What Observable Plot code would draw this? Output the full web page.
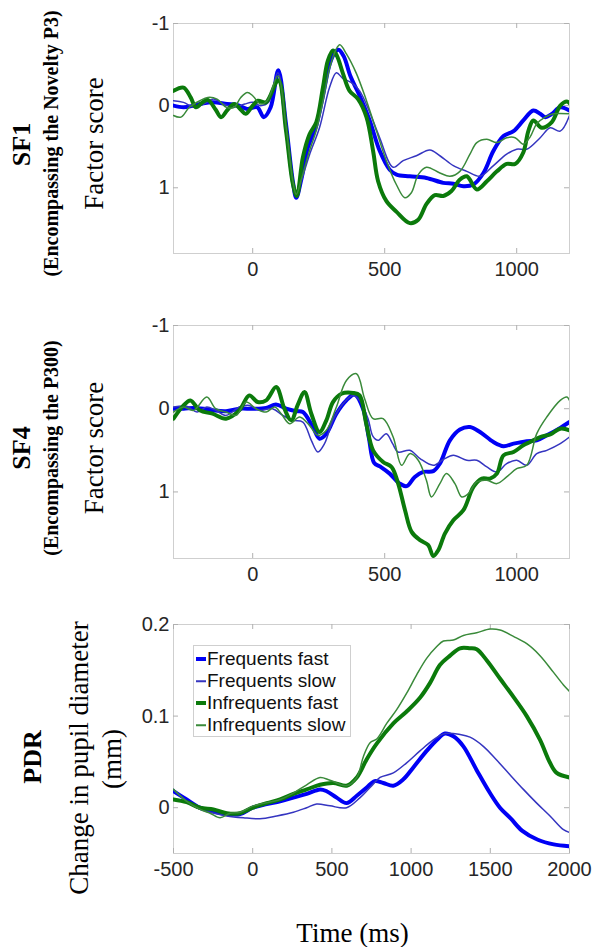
<!DOCTYPE html>
<html>
<head>
<meta charset="utf-8">
<script src="https://cdn.jsdelivr.net/npm/d3@7"></script>
<script src="https://cdn.jsdelivr.net/npm/@observablehq/plot@0.6"></script>
<style>
  html, body { margin: 0; padding: 0; background: white; overflow: hidden; }
  #c { position: relative; width: 594px; height: 947px; }
  #legend { position: absolute; left: 193px; top: 645px; width: 156px; height: 90px;
    border: 1px solid #cfcfcf; background: white; font-family: "Liberation Sans", Arial, sans-serif;
    font-size: 19px; color: #111; }
  #legend .row { position: absolute; left: 0; height: 22px; line-height: 22px; white-space: nowrap; }
  #legend .sw { position: absolute; left: 2px; width: 10px; top: 50%; transform: translateY(-50%); }
  #legend .tx { position: absolute; left: 13px; top: 0; }
</style>
</head>
<body>
<div id="c"></div>
<script>
// ---------- Legend / series names ----------
const seriesNames = ["Frequents fast", "Frequents slow", "Infrequents fast", "Infrequents slow"];

// ---------- Tick values ----------
const sfXTicks = [0, 500, 1000];
const sfYTicks = [-1, 0, 1];
const pdrXTicks = [-500, 0, 500, 1000, 1500, 2000];
const pdrYTicks = [0, 0.1, 0.2];

// ---------- SF1 (time ms, factor score) ----------
const sf1FreqFast = [[-300,0],[-262,0.02],[-224,0],[-186,-0.03],[-148,-0.04],[-97,-0.02],[-59,-0.01],[-21,0.04],[17,0.02],[42,0.14],[68,0.02],[97,-0.43],[126,0.22],[152,0.92],[165,1.12],[184,0.9],[209,0.51],[241,0.24],[266,-0.12],[291,-0.5],[310,-0.64],[325,-0.68],[345,-0.6],[370,-0.36],[405,-0.12],[443,0.18],[481,0.55],[519,0.78],[545,0.84],[595,0.86],[658,0.88],[722,0.94],[760,0.95],[798,0.98],[836,0.96],[874,0.82],[912,0.55],[950,0.37],[988,0.31],[1025,0.18],[1063,0.06],[1089,0.1],[1108,0.14],[1133,0.1],[1165,0.02],[1200,0.06]];
const sf1FreqSlow = [[-300,-0.06],[-262,-0.04],[-224,0.02],[-186,-0.02],[-148,-0.08],[-110,-0.02],[-70,0.02],[-30,-0.02],[0,-0.04],[30,0],[60,-0.04],[95,-0.4],[126,0.2],[152,0.9],[165,1.1],[184,0.92],[215,0.6],[253,0.27],[291,-0.22],[317,-0.4],[342,-0.33],[374,-0.28],[405,-0.18],[443,0.08],[481,0.39],[532,0.75],[570,0.67],[620,0.61],[671,0.54],[709,0.61],[760,0.73],[811,0.8],[861,0.86],[912,0.73],[962,0.59],[1000,0.53],[1038,0.53],[1089,0.39],[1127,0.27],[1165,0.31],[1200,0.12]];
const sf1InfFast = [[-300,-0.18],[-262,-0.22],[-235,-0.1],[-215,0.02],[-190,-0.04],[-170,-0.07],[-140,0.05],[-120,0.14],[-95,0.05],[-70,-0.02],[-45,0.05],[-27,0.1],[0,0],[20,-0.06],[50,-0.04],[97,-0.31],[126,0.3],[152,0.95],[167,1.1],[190,0.63],[215,0.35],[241,0.2],[266,-0.22],[285,-0.55],[304,-0.67],[320,-0.6],[342,-0.39],[367,-0.18],[399,-0.08],[431,0.14],[456,0.55],[475,0.92],[506,1.16],[544,1.29],[595,1.43],[627,1.39],[658,1.2],[690,1.09],[722,1.1],[753,1.04],[785,0.9],[811,0.86],[849,1.02],[887,0.92],[925,0.8],[962,0.71],[994,0.71],[1025,0.57],[1044,0.31],[1063,0.18],[1095,0.27],[1133,0.2],[1165,0],[1190,-0.05],[1200,-0.03]];
const sf1InfSlow = [[-300,0.12],[-272,0.14],[-240,0.02],[-200,-0.06],[-170,-0.1],[-135,-0.08],[-100,0.02],[-70,0.02],[-45,-0.1],[-20,-0.16],[0,-0.12],[30,-0.02],[55,-0.06],[95,-0.36],[126,0.25],[152,0.92],[165,1.08],[184,0.9],[215,0.55],[241,0.3],[266,-0.05],[291,-0.45],[315,-0.68],[330,-0.74],[355,-0.63],[393,-0.39],[431,-0.06],[469,0.31],[506,0.67],[544,0.96],[576,1.12],[601,1.06],[627,0.84],[658,0.75],[709,0.82],[747,0.86],[785,0.8],[823,0.59],[849,0.45],[887,0.41],[925,0.45],[962,0.39],[994,0.39],[1025,0.47],[1051,0.38],[1076,0.22],[1108,0.14],[1139,0.1],[1200,0.1]];

// ---------- SF4 ----------
const sf4FreqFast = [[-300,0],[-262,0],[-224,-0.01],[-186,0],[-148,0.02],[-101,0.03],[-51,0],[0,0],[51,-0.01],[88,-0.05],[127,0],[165,0.03],[190,0.04],[228,0.22],[253,0.36],[279,0.3],[317,0.06],[355,-0.1],[386,-0.17],[418,0],[440,0.35],[460,0.65],[485,0.7],[519,0.78],[557,0.9],[583,0.93],[614,0.82],[646,0.76],[684,0.75],[709,0.66],[747,0.38],[785,0.25],[823,0.22],[861,0.28],[912,0.4],[950,0.45],[988,0.42],[1038,0.39],[1076,0.38],[1114,0.32],[1165,0.23],[1200,0.16]];
const sf4FreqSlow = [[-300,-0.02],[-250,-0.03],[-211,0.04],[-174,-0.02],[-140,0.02],[-101,0.08],[-51,-0.02],[-13,-0.04],[25,0.02],[75,0],[114,0.08],[152,0.14],[190,0.16],[222,0.38],[247,0.52],[272,0.42],[304,0.14],[342,-0.06],[380,-0.16],[405,-0.1],[437,0.12],[455,0.33],[475,0.38],[506,0.3],[530,0.42],[550,0.52],[595,0.5],[634,0.6],[684,0.68],[722,0.61],[760,0.56],[811,0.62],[849,0.62],[887,0.7],[925,0.76],[962,0.66],[1000,0.62],[1038,0.68],[1076,0.54],[1114,0.5],[1165,0.42],[1200,0.34]];
const sf4InfFast = [[-300,0.12],[-262,-0.04],[-236,-0.1],[-200,0.02],[-152,0.06],[-101,0.12],[-51,0.02],[-13,-0.16],[19,-0.08],[51,-0.1],[89,-0.26],[120,0],[146,0.14],[171,-0.05],[196,-0.2],[222,0.06],[253,0.28],[279,0.14],[304,-0.08],[336,-0.18],[380,-0.19],[405,-0.16],[430,0.18],[456,0.5],[494,0.64],[526,0.7],[551,0.9],[577,1.22],[602,1.48],[634,1.58],[665,1.64],[684,1.77],[703,1.7],[728,1.5],[760,1.34],[798,1.22],[836,0.94],[868,0.84],[899,0.84],[925,0.78],[950,0.56],[988,0.52],[1025,0.44],[1051,0.4],[1089,0.34],[1127,0.31],[1165,0.24],[1200,0.26]];
const sf4InfSlow = [[-300,0.04],[-262,-0.02],[-224,0.02],[-174,-0.14],[-140,0],[-101,0.04],[-63,0.08],[-25,-0.08],[13,0],[51,0.04],[83,-0.02],[108,0.06],[140,0.18],[178,0.1],[215,0.2],[247,0.32],[279,0.26],[317,-0.02],[355,-0.34],[393,-0.42],[424,-0.12],[456,0.12],[494,0.12],[532,0.34],[564,0.68],[595,0.54],[627,0.62],[658,0.86],[677,1.06],[709,0.9],[734,0.78],[766,0.9],[792,1.06],[817,1.02],[849,0.88],[887,0.86],[925,0.9],[962,0.82],[1000,0.72],[1038,0.68],[1076,0.3],[1114,0.1],[1165,-0.1],[1190,-0.14],[1200,-0.1]];

// ---------- PDR (time ms, change in pupil diameter mm) ----------
const pdrFreqFast = [[-500,0.018],[-417,0.009],[-333,0],[-248,-0.004],[-164,-0.007],[-80,-0.007],[0,0],[88,0.004],[173,0.007],[257,0.011],[341,0.015],[425,0.02],[467,0.018],[530,0.011],[593,0.005],[657,0.013],[720,0.022],[770,0.029],[825,0.027],[888,0.024],[951,0.031],[1014,0.044],[1098,0.062],[1162,0.074],[1214,0.081],[1267,0.078],[1330,0.067],[1414,0.041],[1498,0.016],[1561,0],[1630,-0.012],[1700,-0.025],[1800,-0.035],[1900,-0.04],[2000,-0.042]];
const pdrFreqSlow = [[-500,0.02],[-410,0.006],[-330,-0.002],[-269,-0.005],[-164,-0.009],[-59,-0.011],[46,-0.012],[152,-0.009],[257,-0.005],[341,0],[404,0.004],[488,0.002],[593,0],[678,0.011],[762,0.026],[804,0.033],[888,0.038],[972,0.049],[1056,0.062],[1140,0.074],[1214,0.081],[1309,0.08],[1372,0.077],[1456,0.067],[1540,0.052],[1624,0.036],[1709,0.02],[1793,0.005],[1877,-0.009],[1962,-0.024],[2000,-0.027]];
const pdrInfFast = [[-500,0.009],[-417,0.006],[-333,0],[-248,-0.002],[-164,-0.006],[-80,-0.006],[0,0],[88,0.005],[173,0.009],[257,0.015],[341,0.02],[425,0.025],[509,0.027],[593,0.024],[657,0.033],[720,0.053],[783,0.07],[888,0.092],[972,0.105],[1056,0.12],[1119,0.136],[1183,0.156],[1246,0.166],[1309,0.174],[1372,0.174],[1414,0.173],[1477,0.161],[1561,0.141],[1646,0.121],[1730,0.1],[1814,0.074],[1877,0.049],[1919,0.038],[2000,0.033]];
const pdrInfSlow = [[-500,0.02],[-410,0.006],[-330,-0.002],[-269,-0.006],[-206,-0.011],[-143,-0.006],[-80,-0.005],[4,0.002],[173,0.009],[257,0.016],[341,0.025],[425,0.033],[488,0.03],[593,0.024],[657,0.033],[699,0.056],[741,0.071],[783,0.075],[846,0.092],[909,0.107],[972,0.125],[1035,0.145],[1098,0.163],[1162,0.176],[1204,0.182],[1267,0.183],[1330,0.188],[1414,0.191],[1498,0.195],[1561,0.194],[1646,0.187],[1730,0.179],[1814,0.166],[1898,0.148],[1962,0.134],[2000,0.127]];

// ---------- Styles ----------
const lineStyles = [
  {stroke: "#0000f5", strokeWidth: 4},
  {stroke: "#3535c0", strokeWidth: 1.5},
  {stroke: "#0b7a0b", strokeWidth: 4},
  {stroke: "#3a8a3a", strokeWidth: 1.5}
];
const serif = "'Liberation Serif', 'Times New Roman', serif";
const sans = "'Liberation Sans', Arial, sans-serif";
const W = 594, ML = 173, MR = 25;

function panel({data, xDomain, yDomain, reverse, xTicks, yTicks, height, mt, mb, labels, extra = []}) {
  const fh = height - mt - mb, fw = W - ML - MR;
  const marks = [
    Plot.frame({stroke: "#cfcfcf", strokeWidth: 1}),
    Plot.tickX(xTicks, {x: d => d, stroke: "#b0b0b0", insetTop: fh - 5}),
    Plot.tickX(xTicks, {x: d => d, stroke: "#b0b0b0", insetBottom: fh - 5}),
    Plot.tickY(yTicks, {y: d => d, stroke: "#b0b0b0", insetRight: fw - 5}),
    Plot.tickY(yTicks, {y: d => d, stroke: "#b0b0b0", insetLeft: fw - 5}),
    Plot.axisX({ticks: xTicks, tickSize: 0, tickPadding: 8, label: null, tickFormat: d => String(d), fill: "#262626"}),
    Plot.axisY({ticks: yTicks, tickSize: 0, tickPadding: 4, label: null, tickFormat: d => String(d), fill: "#262626"}),
    ...data.map((s, i) => Plot.line(s, {x: d => d[0], y: d => d[1], ...lineStyles[i], curve: "catmull-rom", clip: true})),
    ...labels.map(l => Plot.text([l.text], {text: d => d, frameAnchor: "left", textAnchor: "middle", lineAnchor: "middle",
      rotate: -90, dx: l.x - ML, dy: l.dy, fontSize: l.size, fontWeight: l.bold ? "bold" : "normal", fontFamily: serif, fill: "#000"})),
    ...extra
  ];
  return Plot.plot({
    width: W, height, marginLeft: ML, marginRight: MR, marginTop: mt, marginBottom: mb,
    style: {fontFamily: sans, fontSize: "20px", background: "white", overflow: "visible"},
    x: {domain: xDomain},
    y: {domain: yDomain, reverse},
    marks
  });
}

const c = document.getElementById("c");

c.appendChild(panel({
  data: [sf1FreqFast, sf1FreqSlow, sf1InfFast, sf1InfSlow],
  xDomain: [-300, 1200], yDomain: [-1, 1.8], reverse: true,
  xTicks: sfXTicks, yTicks: sfYTicks, height: 300, mt: 23, mb: 47,
  labels: [
    {text: "SF1", x: 21.5, dy: 6, size: 26, bold: true},
    {text: "(Encompassing the Novelty P3)", x: 51, dy: 5, size: 20, bold: true},
    {text: "Factor score", x: 93.5, dy: 5, size: 27, bold: false}
  ]
}));

c.appendChild(panel({
  data: [sf4FreqFast, sf4FreqSlow, sf4InfFast, sf4InfSlow],
  xDomain: [-300, 1200], yDomain: [-1, 1.8], reverse: true,
  xTicks: sfXTicks, yTicks: sfYTicks, height: 300, mt: 25, mb: 42,
  labels: [
    {text: "SF4", x: 21.5, dy: 6, size: 26, bold: true},
    {text: "(Encompassing the P300)", x: 51, dy: 6, size: 20, bold: true},
    {text: "Factor score", x: 93.5, dy: 6, size: 27, bold: false}
  ]
}));

c.appendChild(panel({
  data: [pdrFreqFast, pdrFreqSlow, pdrInfFast, pdrInfSlow],
  xDomain: [-500, 2000], yDomain: [-0.05, 0.2], reverse: false,
  xTicks: pdrXTicks, yTicks: pdrYTicks, height: 347, mt: 24, mb: 94,
  labels: [
    {text: "PDR", x: 32, dy: 18, size: 26, bold: true},
    {text: "Change in pupil diameter", x: 78.5, dy: 19, size: 27, bold: false},
    {text: "(mm)", x: 112, dy: 20, size: 27, bold: false}
  ],
  extra: [
    Plot.text(["Time (ms)"], {text: d => d, frameAnchor: "bottom", textAnchor: "middle", lineAnchor: "middle",
      dx: -19, dy: 80, fontSize: 27, fontFamily: serif, fill: "#000"})
  ]
}));

// Legend (HTML overlay)
const legend = document.createElement("div");
legend.id = "legend";
const rowCenters = [13, 35, 57, 79];
seriesNames.forEach((name, i) => {
  const row = document.createElement("div");
  row.className = "row";
  row.style.top = (rowCenters[i] - 11) + "px";
  const sw = document.createElement("span");
  sw.className = "sw";
  sw.style.height = lineStyles[i].strokeWidth + "px";
  sw.style.background = lineStyles[i].stroke;
  const tx = document.createElement("span");
  tx.className = "tx";
  tx.textContent = name;
  row.appendChild(sw);
  row.appendChild(tx);
  legend.appendChild(row);
});
c.appendChild(legend);
</script>
</body>
</html>
